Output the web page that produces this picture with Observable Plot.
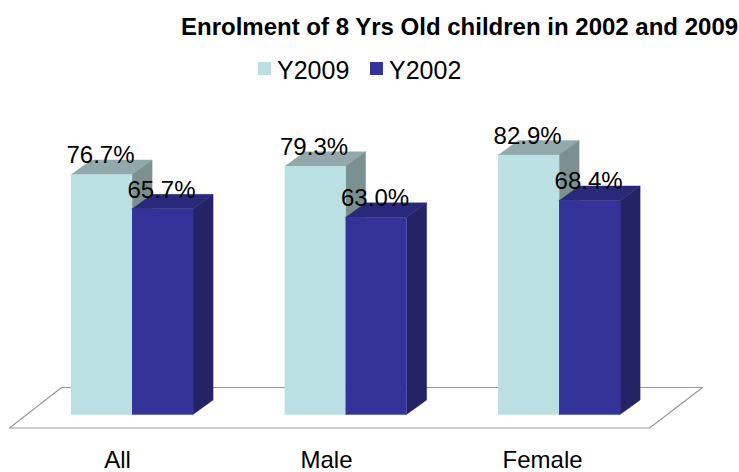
<!DOCTYPE html>
<html>
<head>
<meta charset="utf-8">
<script src="https://cdn.jsdelivr.net/npm/d3@7"></script>
<script src="https://cdn.jsdelivr.net/npm/@observablehq/plot@0.6"></script>
<style>
  html, body { margin: 0; padding: 0; background: #fff; }
  body { width: 739px; height: 472px; overflow: hidden; font-family: "Liberation Sans", Arial, sans-serif; color: #000; }
  #head { position: relative; height: 85px; }
  #title { position: absolute; left: 181px; top: 14px; font-size: 24px; font-weight: bold; line-height: 26px; white-space: nowrap; }
  .key { position: absolute; top: 62px; width: 13px; height: 13px; }
  .lab { position: absolute; top: 56px; font-size: 25px; line-height: 28px; }
  svg { display: block; }
</style>
</head>
<body>
<div id="head"><div id="title"></div></div>
<div id="chart"></div>
<script>
const titleText = "Enrolment of 8 Yrs Old children in 2002 and 2009";
const categories = ["All", "Male", "Female"];
const y2009 = [76.7, 79.3, 82.9];
const y2002 = [65.7, 63.0, 68.4];
const categoryLabelX = [-0.068, 0.911, 1.923];

const seriesNames = ["Y2009", "Y2002"];
const seriesValues = [y2009, y2002];
const frontColors = ["#BBE0E3", "#333399"];
const topColors = ["#92A9AB", "#29297A"];
const sideColors = ["#7C9091", "#232365"];
const legendLeft = [258, 370];
const legendLabelLeft = [277, 389];

// bar geometry, in scale units
const barWidth = 0.2857;
const depthX = 0.094;
const depthY = 4.64;
// floor geometry, in scale units
const floorFront = -4.31, floorBack = 8.63;
const floorX = [-0.574, 2.424, 2.672, -0.330, -0.574];
const floorY = [floorFront, floorFront, floorBack, floorBack, floorFront];

const floor = floorX.map((x, i) => ({x, y: floorY[i]}));

function faces(s) {
  const front = [], top = [], side = [];
  seriesValues[s].forEach((v, i) => {
    const x0 = i + (s - 1) * barWidth, x1 = x0 + barWidth;
    const k = categories[i];
    front.push({k, x: x0, y: 0}, {k, x: x1, y: 0}, {k, x: x1, y: v}, {k, x: x0, y: v});
    top.push({k, x: x0, y: v}, {k, x: x1, y: v}, {k, x: x1 + depthX, y: v + depthY}, {k, x: x0 + depthX, y: v + depthY});
    side.push({k, x: x1, y: 0}, {k, x: x1 + depthX, y: depthY}, {k, x: x1 + depthX, y: v + depthY}, {k, x: x1, y: v});
  });
  return {front, top, side};
}

const labels = seriesValues.flatMap((vals, s) =>
  vals.map((v, i) => ({x: i + (s - 1) * barWidth + barWidth / 2, y: v, t: v.toFixed(1) + "%"})));

const face = (rows, color) => Plot.line(rows, {x: "x", y: "y", z: "k", fill: color, stroke: color, strokeWidth: 0.4, curve: "linear"});

const marks = [
  Plot.line(floor, {x: "x", y: "y", stroke: "#999999", strokeWidth: 1.2, curve: "linear"})
];
seriesNames.forEach((_, s) => {
  const f = faces(s);
  marks.push(face(f.top, topColors[s]), face(f.side, sideColors[s]), face(f.front, frontColors[s]));
});
marks.push(
  Plot.text(labels, {x: "x", y: "y", text: "t", dx: -1, dy: -19, fontSize: 24, fill: "#000"}),
  Plot.text(categories, {x: (d, i) => categoryLabelX[i], y: () => -14.7, text: d => d, fontSize: 24, fill: "#000"})
);

const plot = Plot.plot({
  width: 739,
  height: 387,
  margin: 0,
  style: {fontFamily: "'Liberation Sans', Arial, sans-serif", background: "#fff"},
  x: {type: "linear", domain: [-0.616, 2.845], range: [0, 739], axis: null},
  y: {type: "linear", domain: [-18.53, 105.11], range: [387, 0], axis: null},
  marks
});
document.getElementById("chart").append(plot);

const head = document.getElementById("head");
document.getElementById("title").textContent = titleText;
seriesNames.forEach((name, s) => {
  const key = document.createElement("div");
  key.className = "key";
  key.style.left = legendLeft[s] + "px";
  key.style.background = frontColors[s];
  const lab = document.createElement("div");
  lab.className = "lab";
  lab.style.left = legendLabelLeft[s] + "px";
  lab.textContent = name;
  head.append(key, lab);
});
</script>
</body>
</html>
